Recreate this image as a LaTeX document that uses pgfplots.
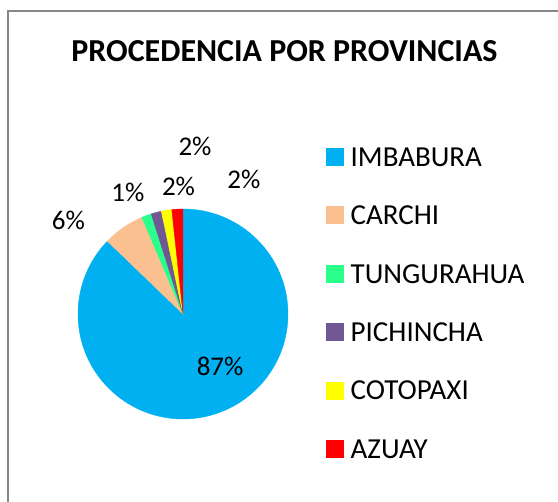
\documentclass[border=0pt]{standalone}
\usepackage{fontspec}
\setmainfont{Carlito}
\usepackage{pgfplots}
\pgfplotsset{compat=1.18}
\usepgfplotslibrary{polar}

\definecolor{cImb}{RGB}{0,176,240}
\definecolor{cCar}{RGB}{250,192,143}
\definecolor{cTun}{RGB}{42,255,140}
\definecolor{cPic}{RGB}{112,88,148}
\definecolor{cCot}{RGB}{255,255,0}
\definecolor{cAzu}{RGB}{255,0,0}
\definecolor{frame}{RGB}{134,134,134}

\newcommand{\lab}{\fontsize{27}{32}\selectfont}
\newcommand{\leg}{\fontsize{29}{34}\selectfont}

% porcentajes: 87.2, 6.4, 1.5, 1.6, 1.6, 1.7  (x 3.6 grados, en sentido horario desde las 12)
\begin{document}
\begin{tikzpicture}
\useasboundingbox (0,0) rectangle (558pt,502pt);
\draw[line width=1.2pt, frame] (8pt,-2pt) -- (8pt,491pt) -- (560pt,491pt);
\node[anchor=base, inner sep=0pt, font=\bfseries\fontsize{32}{37}\selectfont]
  at (284.5pt,440pt) {PROCEDENCIA POR PROVINCIAS};
\begin{polaraxis}[
  hide axis, scale only axis, width=210pt, height=210pt,
  xmin=0, xmax=360, ymin=0, ymax=1,
  anchor=center, at={(183pt,188pt)},
  clip=false,
  legend cell align=left,
  legend image code/.code={\fill[#1] (0pt,-8.5pt) rectangle (17pt,8.5pt);},
  legend style={at={(axis cs:49.4,2.094)}, anchor=north west,
    draw=none, fill=none, inner sep=0pt, row sep=39.4pt, column sep=7pt,
    font=\leg, nodes={inner sep=0pt, text height=19pt, text depth=0pt}},
]
\addplot[fill=cImb, draw=cImb] coordinates {(0,0) (90,1)}
  arc[start angle=90, end angle=-223.92, radius=105pt] -- cycle;
\addlegendentry{IMBABURA}
\addplot[fill=cCar, draw=cCar] coordinates {(0,0) (-223.92,1)}
  arc[start angle=-223.92, end angle=-246.96, radius=105pt] -- cycle;
\addlegendentry{CARCHI}
\addplot[fill=cTun, draw=cTun] coordinates {(0,0) (-246.96,1)}
  arc[start angle=-246.96, end angle=-252.36, radius=105pt] -- cycle;
\addlegendentry{TUNGURAHUA}
\addplot[fill=cPic, draw=cPic] coordinates {(0,0) (-252.36,1)}
  arc[start angle=-252.36, end angle=-258.12, radius=105pt] -- cycle;
\addlegendentry{PICHINCHA}
\addplot[fill=cCot, draw=cCot] coordinates {(0,0) (-258.12,1)}
  arc[start angle=-258.12, end angle=-263.88, radius=105pt] -- cycle;
\addlegendentry{COTOPAXI}
\addplot[fill=cAzu, draw=cAzu] coordinates {(0,0) (-263.88,1)}
  arc[start angle=-263.88, end angle=-270, radius=105pt] -- cycle;
\addlegendentry{AZUAY}

\node[font=\lab, inner sep=0pt] at (axis cs:-54.6,0.61) {87\%};
\node[font=\lab, inner sep=0pt] at (axis cs:140.7,1.41) {6\%};
\node[font=\lab, inner sep=0pt] at (axis cs:114.4,1.27) {1\%};
\node[font=\lab, inner sep=0pt] at (axis cs:92,1.22) {2\%};
\node[font=\lab, inner sep=0pt] at (axis cs:85.9,1.6) {2\%};
\node[font=\lab, inner sep=0pt] at (axis cs:65.7,1.41) {2\%};
\end{polaraxis}
\end{tikzpicture}
\end{document}
